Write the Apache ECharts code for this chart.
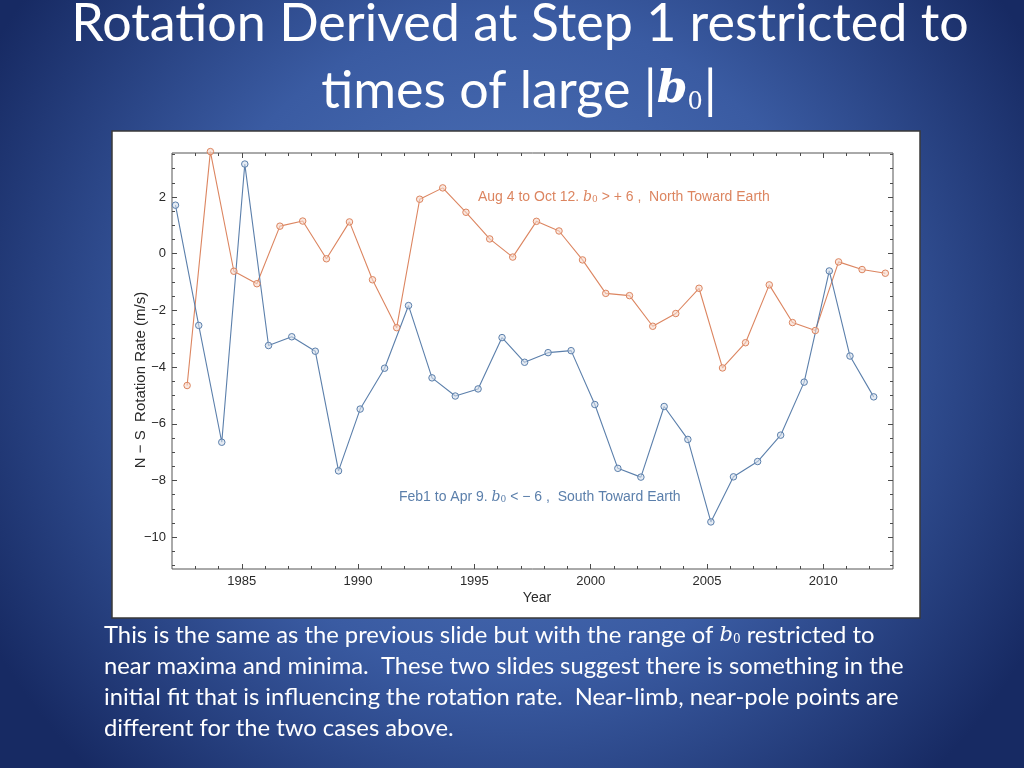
<!DOCTYPE html>
<html><head><meta charset="utf-8">
<script src="https://cdn.jsdelivr.net/npm/echarts@6.0.0/dist/echarts.min.js"></script>
<style>html,body{margin:0;padding:0;background:#1c3170;}#c{width:1024px;height:768px;}</style>
</head><body><div id="c"></div>
<script>
// ---- data ----
const northYears = [1982.65,1983.65,1984.66,1985.65,1986.64,1987.62,1988.64,1989.63,1990.62,1991.66,1992.65,1993.64,1994.64,1995.66,1996.65,1997.67,1998.64,1999.65,2000.65,2001.67,2002.67,2003.66,2004.66,2005.67,2006.66,2007.68,2008.68,2009.66,2010.66,2011.67,2012.67];
const northValues = [-4.65,3.6,-0.62,-1.06,0.97,1.15,-0.18,1.12,-0.92,-2.61,1.92,2.32,1.46,0.52,-0.12,1.14,0.80,-0.22,-1.40,-1.48,-2.56,-2.11,-1.22,-4.03,-3.14,-1.10,-2.43,-2.71,-0.29,-0.56,-0.69];
const southYears = [1982.15,1983.15,1984.14,1985.13,1986.15,1987.15,1988.16,1989.16,1990.09,1991.14,1992.17,1993.18,1994.18,1995.16,1996.19,1997.16,1998.17,1999.16,2000.18,2001.17,2002.16,2003.16,2004.18,2005.17,2006.14,2007.18,2008.17,2009.18,2010.26,2011.15,2012.17];
const southValues = [1.71,-2.53,-6.65,3.16,-3.24,-2.93,-3.44,-7.66,-5.48,-4.04,-1.83,-4.38,-5.02,-4.77,-2.96,-3.83,-3.49,-3.42,-5.32,-7.57,-7.88,-5.39,-6.55,-9.46,-7.87,-7.33,-6.40,-4.53,-0.61,-3.61,-5.05];
const xMajorTicks = [1985,1990,1995,2000,2005,2010];
const xMinorTicks = [1983,1984,1986,1987,1988,1989,1991,1992,1993,1994,1996,1997,1998,1999,2001,2002,2003,2004,2006,2007,2008,2009,2011,2012];
const yMajorTicks = [-10,-8,-6,-4,-2,0,2];
const yMinorTicks = [-11,-10.5,-9.5,-9,-8.5,-7.5,-7,-6.5,-5.5,-5,-4.5,-3.5,-3,-2.5,-1.5,-1,-0.5,0.5,1,1.5,2.5,3,3.5];
const titleLines = ['Rotation Derived at Step 1 restricted to', 'times of large '];
const northNote = 'Aug 4 to Oct 12. ';
const southNote = 'Feb1 to Apr 9. ';

const ORANGE = '#dc8560', BLUE = '#5b7fab';
const tickColor = '#4a4a4a';
function pairs(xs, ys){ return xs.map((x,i)=>[x, ys[i]]); }
function axisX(pos, vals, len, labels){
  return {type:'value', min:1982, max:2013, position:pos, gridIndex:0,
    axisLine:{show:false, onZero:false}, splitLine:{show:false},
    axisTick:{show:true, inside:true, length:len, customValues:vals, lineStyle:{color:tickColor, width:1}},
    axisLabel: labels ? {show:true, customValues:vals, margin:6, color:'#2a2a2a', fontSize:13, fontFamily:'Liberation Sans', formatter:v=>String(v)} : {show:false}};
}
function axisY(pos, vals, len, labels){
  return {type:'value', min:-11.12, max:3.55, position:pos, gridIndex:0,
    axisLine:{show:false, onZero:false}, splitLine:{show:false},
    axisTick:{show:true, inside:true, length:len, customValues:vals, lineStyle:{color:tickColor, width:1}},
    axisLabel: labels ? {show:true, customValues:vals, margin:6, color:'#2a2a2a', fontSize:13, fontFamily:'Liberation Sans',
      formatter:v=> v<0 ? '\u2212' + Math.abs(v) : String(v)} : {show:false}};
}
const chart = echarts.init(document.getElementById('c'));
chart.setOption({
  animation:false,
  backgroundColor:{type:'radial', x:0.5, y:0.45, r:0.78, colorStops:[
    {offset:0, color:'#5379bf'},{offset:0.55, color:'#3a5ba2'},{offset:1, color:'#172a63'}]},
  grid:{left:172, top:153, width:721, height:416, show:true, borderColor:'#555', borderWidth:1, backgroundColor:'transparent'},
  xAxis:[axisX('bottom', xMajorTicks, 5, true), axisX('bottom', xMinorTicks, 3, false), axisX('top', xMajorTicks, 5, false), axisX('top', xMinorTicks, 3, false)],
  yAxis:[axisY('left', yMajorTicks, 5, true), axisY('left', yMinorTicks, 3, false), axisY('right', yMajorTicks, 5, false), axisY('right', yMinorTicks, 3, false)],
  graphic:[
    {type:'rect', z:-10, shape:{x:112, y:131, width:808, height:487}, style:{fill:'#ffffff', stroke:'#3a3a3a', lineWidth:1.5}},
    {type:'text', x:520, y:-2, style:{text:titleLines[0], fill:'#ffffff', font:'52px Lato', align:'center', verticalAlign:'top'}},
    {type:'text', x:519, y:65, style:{text:'{n|' + titleLines[1] + '}{v||}{b|b}{s|0}{v||}', fill:'#ffffff', align:'center', verticalAlign:'top',
      rich:{n:{fontSize:52, fontFamily:'Lato', fill:'#fff'}, v:{fontSize:52, fontFamily:'Lato', fill:'#fff'}, b:{fontSize:44, fontFamily:'DejaVu Serif', fontStyle:'italic', fontWeight:'bold', fill:'#fff'}, s:{fontSize:24, fontFamily:'DejaVu Serif', fill:'#fff', padding:[24,1,0,0]}}}},
    {type:'text', x:478, y:197, style:{text:'{t|' + northNote + '}{i|b}{s|0}{t| > + 6 ,  North Toward Earth}', verticalAlign:'middle',
      rich:{t:{fontSize:14, fontFamily:'Liberation Sans', fill:ORANGE}, i:{fontSize:14, fontFamily:'DejaVu Serif', fontStyle:'italic', fill:ORANGE}, s:{fontSize:9, fontFamily:'DejaVu Serif', fill:ORANGE, padding:[6,0,0,0]}}}},
    {type:'text', x:399, y:497, style:{text:'{t|' + southNote + '}{i|b}{s|0}{t| < \u2212 6 ,  South Toward Earth}', verticalAlign:'middle',
      rich:{t:{fontSize:14, fontFamily:'Liberation Sans', fill:BLUE}, i:{fontSize:14, fontFamily:'DejaVu Serif', fontStyle:'italic', fill:BLUE}, s:{fontSize:9, fontFamily:'DejaVu Serif', fill:BLUE, padding:[6,0,0,0]}}}},
    {type:'text', x:141, y:380, rotation:Math.PI/2, style:{text:'N \u2212 S  Rotation Rate (m/s)', fill:'#2a2a2a', font:'15px Liberation Sans', align:'center', verticalAlign:'middle'}},
    {type:'text', x:537, y:598, style:{text:'Year', fill:'#2a2a2a', font:'14px Liberation Sans', align:'center', verticalAlign:'middle'}},
    {type:'text', x:104, y:620, style:{text:'{n|This is the same as the previous slide but with the range of }{i|b}{s|0}{n| restricted to}\n{n|near maxima and minima.  These two slides suggest there is something in the}\n{n|initial fit that is influencing the rotation rate.  Near-limb, near-pole points are}\n{n|different for the two cases above.}',
      verticalAlign:'top', lineHeight:31,
      rich:{n:{fontSize:23.8, fontFamily:'Lato', fill:'#fff', lineHeight:31}, i:{fontSize:21, fontFamily:'DejaVu Serif', fontStyle:'italic', fill:'#fff', lineHeight:31}, s:{fontSize:12, fontFamily:'DejaVu Serif', fill:'#fff', lineHeight:31, padding:[8,0,0,0]}}}}
  ],
  series:[
    {name:'North', type:'line', xAxisIndex:0, yAxisIndex:0, clip:false, data:pairs(northYears, northValues),
      symbol:'circle', symbolSize:6.5, lineStyle:{color:ORANGE, width:1.1}, itemStyle:{color:'rgba(246,217,204,0.6)', borderColor:ORANGE, borderWidth:1}},
    {name:'South', type:'line', xAxisIndex:0, yAxisIndex:0, clip:false, data:pairs(southYears, southValues),
      symbol:'circle', symbolSize:6.5, lineStyle:{color:BLUE, width:1.1}, itemStyle:{color:'rgba(211,222,235,0.6)', borderColor:BLUE, borderWidth:1}}
  ]
});
</script></body></html>
